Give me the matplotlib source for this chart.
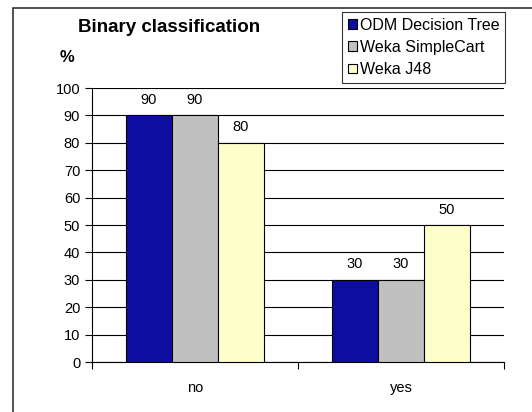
import matplotlib.pyplot as plt
import numpy as np
from matplotlib.patches import Rectangle

plt.rcParams['font.family'] = ['Liberation Sans', 'DejaVu Sans']

categories = ["no", "yes"]
series = ["ODM Decision Tree", "Weka SimpleCart", "Weka J48"]
odm = [90, 30]
simplecart = [90, 30]
j48 = [80, 50]
colors = ["#0D0DA0", "#C0C0C0", "#FFFFCC"]

fig = plt.figure(figsize=(5.32, 4.12), dpi=100)
ax = fig.add_axes([92 / 532, 1 - 362 / 412, 412 / 532, 274 / 412])

# outer chart frame (cut off at right and bottom)
fig.patches.append(Rectangle((13 / 532, -0.1), 1.2, 1 - 8 / 412 + 0.1,
                             transform=fig.transFigure, fill=False,
                             edgecolor="#333333", linewidth=1.2))

x = np.arange(len(categories))
w = 0.223
for i, (vals, name) in enumerate(zip([odm, simplecart, j48], series)):
    bars = ax.bar(x + (i - 1) * w, vals, w, color=colors[i], edgecolor="black",
                  linewidth=0.8, label=name, zorder=3)
    ax.bar_label(bars, padding=6, fontsize=10.5)

ax.set_ylim(0, 100)
ax.set_xlim(-0.5, 1.5)
ax.set_yticks(range(0, 101, 10))
ax.yaxis.grid(True, color="black", linewidth=0.8)
ax.set_axisbelow(True)
ax.tick_params(axis="y", labelsize=10.5, length=5, width=0.8, direction="out")
ax.set_xticks(x)
ax.set_xticklabels(categories, fontsize=10.5)
ax.tick_params(axis="x", which="major", length=0, pad=14)
ax.set_xticks([-0.5, 0.5, 1.5], minor=True)
ax.tick_params(axis="x", which="minor", length=5, width=0.8)
for s in ["top", "right"]:
    ax.spines[s].set_visible(False)
ax.spines["left"].set_linewidth(0.8)
ax.spines["bottom"].set_linewidth(0.8)

fig.text(78 / 532, 1 - 27 / 412, "Binary classification", fontsize=13.5,
         fontweight="bold", va="center", ha="left")
fig.text(60 / 532, 1 - 57 / 412, "%", fontsize=12, fontweight="bold",
         va="center", ha="left")

leg = ax.legend(loc="upper right", bbox_to_anchor=(505 / 532, 1 - 12 / 412),
                bbox_transform=fig.transFigure, fontsize=11.5, frameon=True,
                fancybox=False, edgecolor="black", handlelength=0.55,
                handleheight=0.55, handletextpad=0.2, borderpad=0.35,
                labelspacing=0.45, borderaxespad=0)
leg.get_frame().set_linewidth(0.8)

fig.savefig("out.png", dpi=100)
